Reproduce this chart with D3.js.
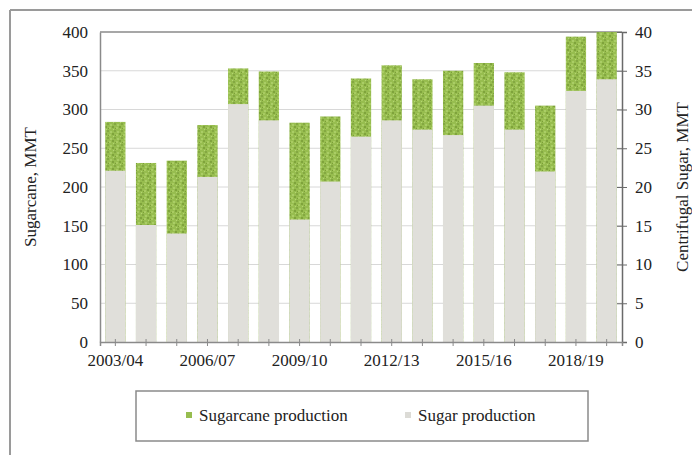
<!DOCTYPE html>
<html><head><meta charset="utf-8">
<script src="https://cdn.jsdelivr.net/npm/d3@7"></script>
<style>body{margin:0;background:#fff}svg{display:block;font-family:"Liberation Serif","Times New Roman",serif}</style>
</head><body><svg id="c" width="692" height="459"></svg>
<script>
const categories = ["2003/04","2004/05","2005/06","2006/07","2007/08","2008/09","2009/10","2010/11","2011/12","2012/13","2013/14","2014/15","2015/16","2016/17","2017/18","2018/19","2019/20"];
const sugarcane = [284, 231, 234, 280, 353, 349, 283, 291, 340, 357, 339, 350, 360, 348, 305, 394, 400];
const sugar = [22.1, 15.1, 14.0, 21.3, 30.7, 28.6, 15.8, 20.7, 26.5, 28.6, 27.4, 26.7, 30.5, 27.4, 22.0, 32.4, 33.9];
const leftTicks = [0,50,100,150,200,250,300,350,400];
const rightTicks = [0,5,10,15,20,25,30,35,40];
const xLabels = ["2003/04","2006/07","2009/10","2012/13","2015/16","2018/19"];

const svg = d3.select("#c");
const L = 100, R = 622, T = 32, B = 342;
const x = d3.scaleBand().domain(categories).range([L, R]).paddingInner(0.34).paddingOuter(0.17);
const yL = d3.scaleLinear().domain([0, 400]).range([B, T]);
const yR = d3.scaleLinear().domain([0, 40]).range([B, T]);

// pattern for green
const defs = svg.append("defs");
const pat = defs.append("pattern").attr("id","grn").attr("patternUnits","userSpaceOnUse").attr("width",7).attr("height",7);
pat.append("rect").attr("width",7).attr("height",7).attr("fill","#97bd4f");
[[0,0,2,2,"#7fa33c"],[4,1,2,2,"#a9cb62"],[2,4,2,2,"#84a842"],[5,5,2,2,"#aacd66"],[1,3,1,1,"#b4d474"],[3,2,1,1,"#7b9e38"]].forEach(d=>{
  pat.append("rect").attr("x",d[0]).attr("y",d[1]).attr("width",d[2]).attr("height",d[3]).attr("fill",d[4]);
});

// outer frame
svg.append("line").attr("x1",10).attr("x2",692).attr("y1",10).attr("y2",10).attr("stroke","#9a9a9a").attr("stroke-width",2);
svg.append("line").attr("x1",10).attr("x2",10).attr("y1",10).attr("y2",455).attr("stroke","#9a9a9a").attr("stroke-width",2);

// gridlines
svg.append("g").selectAll("line").data(leftTicks.filter(d=>d>0)).join("line")
  .attr("x1",L).attr("x2",R).attr("y1",d=>yL(d)).attr("y2",d=>yL(d))
  .attr("stroke",d=>d===400?"#8a8a8a":"#d8d8d8").attr("stroke-width",d=>d===400?1.5:1);

// bars
svg.append("g").selectAll("rect").data(categories).join("rect")
  .attr("x",d=>x(d)).attr("width",x.bandwidth())
  .attr("y",(d,i)=>yL(sugarcane[i])).attr("height",(d,i)=>B-yL(sugarcane[i]))
  .attr("fill","url(#grn)");
svg.append("g").selectAll("rect").data(categories).join("rect")
  .attr("x",d=>x(d)).attr("width",x.bandwidth())
  .attr("y",(d,i)=>yR(sugar[i])).attr("height",(d,i)=>B-yR(sugar[i]))
  .attr("fill","#e0dfda");

// left axis
const gl = svg.append("g").attr("transform",`translate(${L},0)`)
  .call(d3.axisLeft(yL).tickValues(leftTicks).tickSize(0).tickPadding(12));
gl.select(".domain").attr("stroke","#8a8a8a").attr("stroke-width",1.5);
gl.selectAll("text").attr("font-size",17).attr("fill","#222").attr("font-family","Liberation Serif");

// right axis
const gr = svg.append("g").attr("transform",`translate(${R},0)`)
  .call(d3.axisRight(yR).tickValues(rightTicks).tickSize(5).tickPadding(8));
gr.select(".domain").attr("stroke","#6a6a6a").attr("stroke-width",1.5);
gr.selectAll(".tick line").attr("x1",-5).attr("stroke","#6a6a6a");
gr.selectAll("text").attr("font-size",17).attr("fill","#222").attr("font-family","Liberation Serif");

// x axis
const gx = svg.append("g").attr("transform",`translate(0,${B})`)
  .call(d3.axisBottom(x).tickValues(categories).tickSize(4).tickPadding(8).tickFormat(d=>xLabels.includes(d)?d:""));
gx.select(".domain").attr("stroke","#8a8a8a").attr("stroke-width",1.5);
gx.selectAll(".tick line").attr("y1",-3).attr("stroke","#8a8a8a");
gx.selectAll("text").attr("font-size",17).attr("fill","#222").attr("font-family","Liberation Serif");

// axis titles
svg.append("text").attr("transform",`translate(32,${(T+B)/2}) rotate(-90)`).attr("text-anchor","middle")
  .attr("dominant-baseline","middle").attr("font-size",17).attr("fill","#222").text("Sugarcane, MMT");
svg.append("text").attr("transform",`translate(684,${(T+B)/2}) rotate(-90)`).attr("text-anchor","middle")
  .attr("dominant-baseline","middle").attr("font-size",17).attr("fill","#222").text("Centrifugal Sugar, MMT");

// legend
const leg = svg.append("g");
leg.append("rect").attr("x",136).attr("y",391).attr("width",452).attr("height",50).attr("fill","#fff").attr("stroke","#8a8a8a").attr("stroke-width",1.5);
const items = [{name:"Sugarcane production", fill:"#97bd4f", x:186},{name:"Sugar production", fill:"#dcdbd6", x:405}];
items.forEach(it=>{
  leg.append("rect").attr("x",it.x).attr("y",412).attr("width",6).attr("height",6).attr("fill",it.fill);
  leg.append("text").attr("x",it.x+13).attr("y",421).attr("font-size",17).attr("fill","#222").text(it.name);
});
</script></body></html>
